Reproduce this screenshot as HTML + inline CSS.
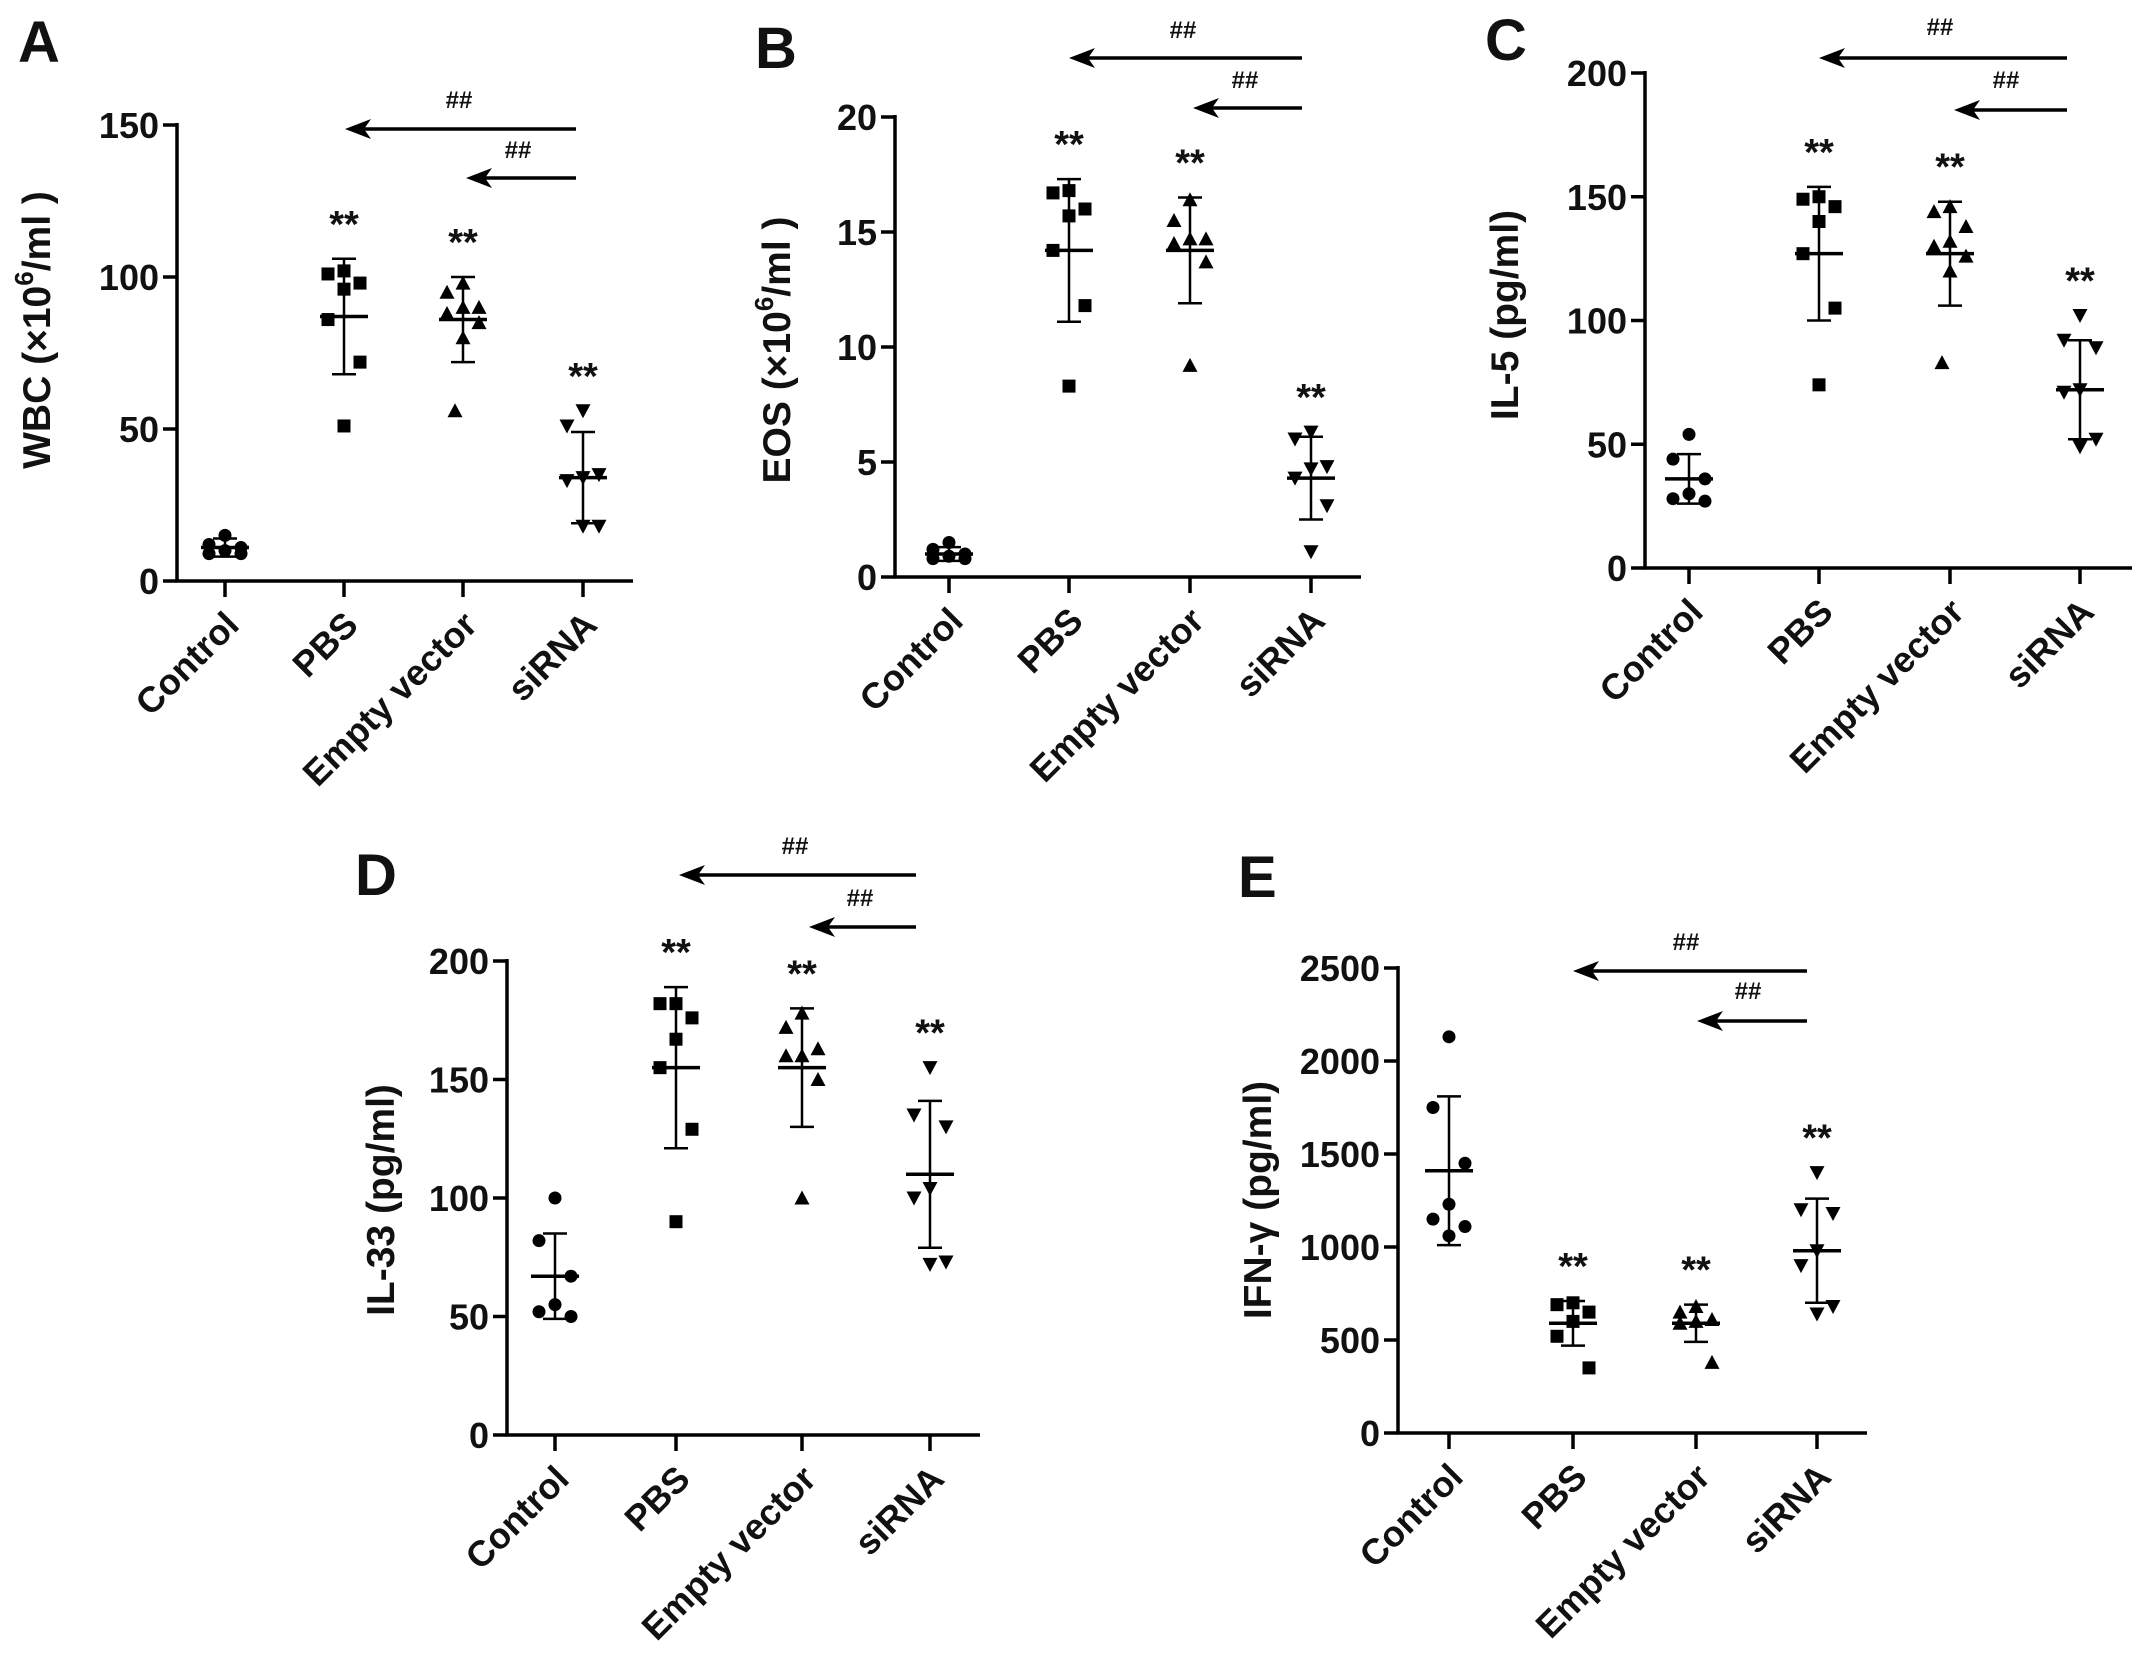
<!DOCTYPE html>
<html><head><meta charset="utf-8">
<style>
html,body{margin:0;padding:0;background:#fff;}
svg{display:block;}
text{font-family:"Liberation Sans",Arial,sans-serif;font-weight:bold;fill:#111;}
</style></head>
<body>
<svg id="fig" width="2150" height="1657" viewBox="0 0 2150 1657" xmlns="http://www.w3.org/2000/svg"></svg>
<script>
const categories = ["Control","PBS","Empty vector","siRNA"];
// Panel A WBC
const wbcPoints = [[15,12,11,10,9,9],[102,101,98,96,86,72,51],[98,95,90,90,88,85,80,56],[56,51,35,34,33,18,18]];
const wbcMean = [11,87,86,34];
const wbcSD = [3,19,14,15];
const wbcTicks = [0,50,100,150];
// Panel B EOS
const eosPoints = [[1.5,1.2,1.0,0.9,0.8,0.8],[16.8,16.7,16.0,15.7,14.2,11.8,8.3],[16.4,15.5,14.7,14.7,14.5,13.7,9.2],[6.3,6.0,4.8,4.7,4.3,3.1,1.1]];
const eosMean = [1.0,14.2,14.2,4.3];
const eosSD = [0.3,3.1,2.3,1.8];
const eosTicks = [0,5,10,15,20];
// Panel C IL-5
const il5Points = [[54,44,36,30,28,27],[150,149,146,140,127,105,74],[146,144,138,132,130,126,120,83],[102,92,89,72,71,52,49]];
const il5Mean = [36,127,127,72];
const il5SD = [10,27,21,20];
const il5Ticks = [0,50,100,150,200];
// Panel D IL-33
const il33Points = [[100,82,67,55,52,50],[182,182,176,167,155,129,90],[178,172,163,160,160,150,100],[155,135,130,104,100,73,72]];
const il33Mean = [67,155,155,110];
const il33SD = [18,34,25,31];
const il33Ticks = [0,50,100,150,200];
// Panel E IFN-gamma
const ifnPoints = [[2130,1750,1450,1230,1150,1110,1060],[700,690,650,600,520,350],[680,650,610,600,590,380],[1400,1200,1180,980,900,680,640]];
const ifnMean = [1410,590,590,980];
const ifnSD = [400,120,100,280];
const ifnTicks = [0,500,1000,1500,2000,2500];

const NS="http://www.w3.org/2000/svg";
const svg=document.getElementById('fig');
function mk(tag,attrs,parent,text){const e=document.createElementNS(NS,tag);for(const k in attrs)e.setAttribute(k,attrs[k]);if(text!==undefined)e.textContent=text;(parent||svg).appendChild(e);return e;}

const panels=[
 {id:'a',letter:'A',lx:18,ly:62,title:['WBC (×10','6','/ml )'],tx:40,ty:330,ax:177,y0:581,yTop:125,max:150,cats:[225,344,463,583],xEnd:633,pts:wbcPoints,mean:wbcMean,sd:wbcSD,ticks:wbcTicks,
  arrows:[[576,345,129],[576,466,178]],hash:[[459,108],[518,158]]},
 {id:'b',letter:'B',lx:755,ly:68,title:['EOS (×10','6','/ml )'],tx:780,ty:350,ax:895,y0:577,yTop:117,max:20,cats:[949,1069,1190,1311],xEnd:1361,pts:eosPoints,mean:eosMean,sd:eosSD,ticks:eosTicks,
  arrows:[[1302,1069,58],[1302,1193,108]],hash:[[1183,38],[1245,88]]},
 {id:'c',letter:'C',lx:1485,ly:60,title:['IL-5 (pg/ml)'],tx:1508,ty:315,ax:1645,y0:568,yTop:73,max:200,cats:[1689,1819,1950,2080],xEnd:2132,pts:il5Points,mean:il5Mean,sd:il5SD,ticks:il5Ticks,
  arrows:[[2067,1819,58],[2067,1954,110]],hash:[[1940,35],[2006,88]]},
 {id:'d',letter:'D',lx:355,ly:895,title:['IL-33 (pg/ml)'],tx:384,ty:1200,ax:507,y0:1435,yTop:961,max:200,cats:[555,676,802,930],xEnd:980,pts:il33Points,mean:il33Mean,sd:il33SD,ticks:il33Ticks,
  arrows:[[916,679,875],[916,809,927]],hash:[[795,854],[860,906]]},
 {id:'e',letter:'E',lx:1238,ly:897,title:['IFN-γ (pg/ml)'],tx:1261,ty:1200,ax:1398,y0:1433,yTop:968,max:2500,cats:[1449,1573,1696,1817],xEnd:1867,pts:ifnPoints,mean:ifnMean,sd:ifnSD,ticks:ifnTicks,
  arrows:[[1807,1573,971],[1807,1697,1021]],hash:[[1686,950],[1748,999]]}
];
const jit=[0,-16,16,0,-16,16,0,-8];
function marker(g,shape,x,y){
  const s=6.5;
  if(shape===0)return mk('circle',{cx:x,cy:y,r:s,fill:'#000'},g);
  if(shape===1)return mk('rect',{x:x-s,y:y-s,width:2*s,height:2*s,fill:'#000'},g);
  if(shape===2)return mk('polygon',{points:`${x},${y-s-1} ${x-s-1},${y+s} ${x+s+1},${y+s}`,fill:'#000'},g);
  return mk('polygon',{points:`${x},${y+s+1} ${x-s-1},${y-s} ${x+s+1},${y-s}`,fill:'#000'},g);
}
panels.forEach(p=>{
  const g=mk('g',{});
  
  
  const ys=v=>p.y0-(v/p.max)*(p.y0-p.yTop);
  const L=mk('text',{x:p.lx,y:p.ly,'font-size':58},g,p.letter);
  
  
  const T=mk('text',{x:p.tx,y:p.ty,'font-size':39,'text-anchor':'middle',transform:`rotate(-90 ${p.tx} ${p.ty})`,'dominant-baseline':'middle'},g);
  
  
  mk('tspan',{},T,p.title[0]);
  if(p.title.length>1){
    mk('tspan',{'font-size':26,dy:-14},T,p.title[1]);
    mk('tspan',{dy:14},T,p.title[2]);
  }
  const ya=mk('line',{x1:p.ax,y1:p.yTop-2,x2:p.ax,y2:p.y0+1.5,stroke:'#000','stroke-width':3.5},g);
  
  
  const xa=mk('line',{x1:p.ax-1.5,y1:p.y0,x2:p.xEnd,y2:p.y0,stroke:'#000','stroke-width':3.5},g);
  
  
  p.ticks.forEach(t=>{
    const y=ys(t);
    mk('line',{x1:p.ax-14,y1:y,x2:p.ax,y2:y,stroke:'#000','stroke-width':3.5},g);
    const tl=mk('text',{x:p.ax-18,y:y+13,'font-size':36,'text-anchor':'end'},g,String(t));
    
    
  });
  categories.forEach((c,i)=>{
    const cx=p.cats[i];
    mk('line',{x1:cx,y1:p.y0,x2:cx,y2:p.y0+16,stroke:'#000','stroke-width':3.5},g);
    const lx=cx+16, ly=p.y0+46;
    const cl=mk('text',{x:lx,y:ly,'font-size':36,'text-anchor':'end',transform:`rotate(-45 ${lx} ${ly})`},g,c);
    
    
    p.pts[i].forEach((v,j)=>{
      const m=marker(g,i,cx+jit[j%jit.length],ys(v));
      
      
    });
    const mean=p.mean[i], sd=p.sd[i];
    const eb=mk('line',{x1:cx,y1:ys(mean+sd),x2:cx,y2:ys(mean-sd),stroke:'#000','stroke-width':2.5},g);
    
    
    mk('line',{x1:cx-12,y1:ys(mean+sd),x2:cx+12,y2:ys(mean+sd),stroke:'#000','stroke-width':2.5},g);
    mk('line',{x1:cx-12,y1:ys(mean-sd),x2:cx+12,y2:ys(mean-sd),stroke:'#000','stroke-width':2.5},g);
    const ml=mk('line',{x1:cx-24,y1:ys(mean),x2:cx+24,y2:ys(mean),stroke:'#000','stroke-width':3.5},g);
    
    
    if(i>0){
      const top=Math.max(Math.max(...p.pts[i]),mean+sd);
      const st=mk('text',{x:cx,y:ys(top)-22,'font-size':38,'text-anchor':'middle'},g,'**');
      
      
    }
  });
  p.arrows.forEach((a,k)=>{
    const ar=mk('g',{},g);
    
    
    mk('line',{x1:a[0],y1:a[2],x2:a[1]+18,y2:a[2],stroke:'#000','stroke-width':3.5},ar);
    mk('polygon',{points:`${a[1]},${a[2]} ${a[1]+26},${a[2]-10} ${a[1]+19},${a[2]} ${a[1]+26},${a[2]+10}`,fill:'#000'},ar);
    const h=mk('text',{x:p.hash[k][0],y:p.hash[k][1],'font-size':24,'text-anchor':'middle','font-weight':'normal'},g,'##');
    
    
  });
});
</script>
</body></html>
